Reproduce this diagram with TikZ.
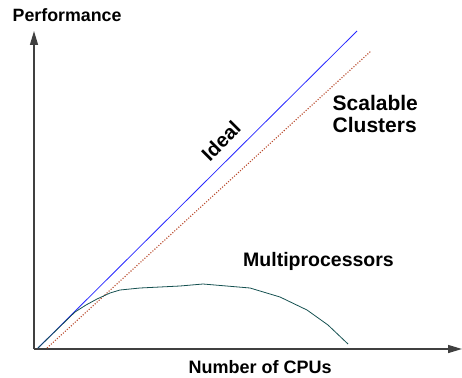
\documentclass[tikz,border=0pt]{standalone}
\usepackage{fontspec}
\setmainfont{Liberation Sans}
\usetikzlibrary{arrows.meta}
\begin{document}
\begin{tikzpicture}[x=1pt,y=-1pt,
  axis/.style={line width=1.4pt,draw=black!75,-{Triangle[length=14pt,width=8pt]}},
  lbl/.style={inner sep=0pt,font=\bfseries},
  ideal/.style={draw={rgb,255:red,40;green,40;blue,255},line width=0.8pt},
  scal/.style={draw={rgb,255:red,185;green,75;blue,45},line width=1.1pt,dash pattern=on 1.1pt off 1.6pt},
  multi/.style={draw={rgb,255:red,20;green,80;blue,80},line width=0.8pt}]
\useasboundingbox (0,0) rectangle (462,377);
\coordinate (o) at (34,349);
\coordinate (ytop) at (34,31);
\coordinate (xend) at (462,349);
\draw[axis] (o) -- (ytop);
\draw[axis] (o) -- (xend);
\node[lbl,anchor=base west,font=\fontsize{17.8}{20}\selectfont\bfseries] (perf) at (12.5,22) {Performance};
\node[lbl,anchor=base west,font=\fontsize{18}{20}\selectfont\bfseries] (cpus) at (188.5,373) {Number of CPUs};
\coordinate (i0) at (38,348);
\coordinate (i1) at (357,31);
\draw[ideal] (i0) -- (i1);
\coordinate (s0) at (47,348);
\coordinate (s1) at (371,51);
\draw[scal] (s0) -- (s1);
\draw[multi] (i0) -- (75,312) -- (86,305) -- (97,299) -- (110,293) -- (120,290) -- (140,288) -- (180,286) -- (203,284) -- (250,288) -- (280,297) -- (307,310) -- (328,325) -- (348,344);
\node[lbl,rotate=45,font=\fontsize{20}{22}\selectfont\bfseries] (ideallbl) at (221,141) {Ideal};
\node[lbl,align=left,anchor=west,font=\fontsize{21}{22}\selectfont\bfseries] (scallbl) at (332.5,114.4) {Scalable\\Clusters};
\node[lbl,anchor=base west,font=\fontsize{19.5}{22}\selectfont\bfseries] (multilbl) at (243,266.5) {Multiprocessors};
\end{tikzpicture}
\end{document}
